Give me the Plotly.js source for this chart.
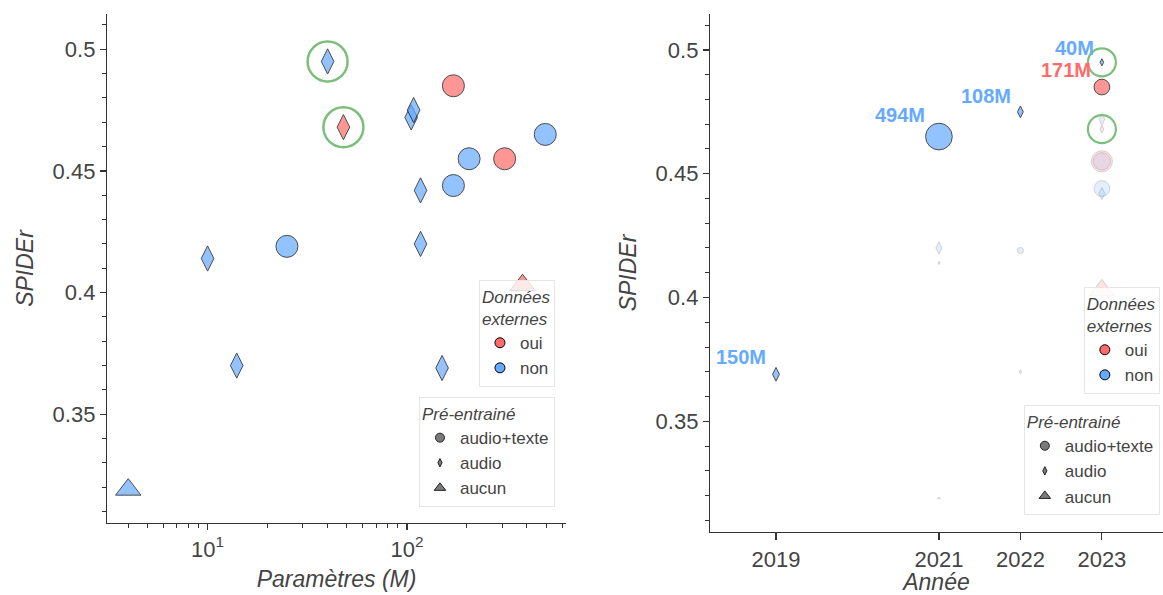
<!DOCTYPE html>
<html>
<head>
<meta charset="utf-8">
<script src="https://cdn.plot.ly/plotly-3.0.1.min.js"></script>
<style>
  html, body { margin: 0; padding: 0; background: #fff; }
  #chart { width: 1163px; height: 595px; }
</style>
</head>
<body>
<div id="chart"></div>
<script>
// ---- Data ----
const params   = [4, 10, 14, 25, 40, 48, 105, 108, 117, 117, 150, 171, 171, 205, 309, 380, 494];
const spider   = [0.319, 0.414, 0.370, 0.419, 0.495, 0.468, 0.472, 0.475, 0.420, 0.442, 0.369, 0.444, 0.485, 0.455, 0.455, 0.403, 0.465];
const years    = [2021, 2021, 2022, 2022, 2023, 2023, 2023, 2022, 2021, 2023, 2019, 2023, 2023, 2023, 2023, 2023, 2021];
const externe  = ['non','non','non','non','non','oui','non','non','non','non','non','non','oui','non','oui','oui','non'];
const pretrain = ['aucun','audio','audio','audio+texte','audio','audio','audio','audio','audio','audio','audio','audio+texte','audio+texte','audio+texte','audio+texte','aucun','audio+texte'];
const highlighted = [false,false,false,false,true,true,false,false,false,false,false,false,false,false,false,false,false];

const externeLabels  = ['oui', 'non'];
const pretrainLabels = ['audio+texte', 'audio', 'aucun'];
const yearTicks = [2019, 2021, 2022, 2023];
const xLogTicks = [10, 100];
const xLogTickText = ['10<sup>1</sup>', '10<sup>2</sup>'];
const yTickText = ['0.35', '0.4', '0.45', '0.5'];

// ---- Styles ----
const colorMap  = { 'oui': '#ff6b6b', 'non': '#66aaff' };
const symbolMap = { 'audio+texte': 'circle', 'audio': 'diamond-tall', 'aucun': 'triangle-up' };
const leftSize  = { 'circle': 22, 'diamond-tall': 18, 'triangle-up': 22 };
const rightFactor = { 'circle': 1.2, 'diamond-tall': 0.8, 'triangle-up': 1.1 };
const heightFactor = { 'circle': 1.0, 'diamond-tall': 1.4, 'triangle-up': 0.75 };
const FONT = 'Liberation Sans, Arial, sans-serif';
const TXT = '#444';
const AX = '#333';
const GREEN = '#7cbf7c';

const n = params.length;
const symbols = pretrain.map(p => symbolMap[p]);
const colors  = externe.map(e => colorMap[e]);

// best per (year, external-data group) -> shown opaque with label on the right panel
const best = spider.map((s, i) => {
  let m = -Infinity;
  for (let j = 0; j < n; j++) if (years[j] === years[i] && externe[j] === externe[i]) m = Math.max(m, spider[j]);
  return s === m;
});

const traces = [];

// Left panel: all models
traces.push({
  x: params, y: spider, xaxis: 'x', yaxis: 'y', type: 'scatter', mode: 'markers',
  showlegend: false, hoverinfo: 'skip',
  marker: {
    symbol: symbols, color: colors,
    size: symbols.map(s => leftSize[s]),
    line: { color: '#000', width: 1 }
  }
});
// Left highlight circles
traces.push({
  x: params.filter((_, i) => highlighted[i]), y: spider.filter((_, i) => highlighted[i]),
  xaxis: 'x', yaxis: 'y', type: 'scatter', mode: 'markers', showlegend: false, hoverinfo: 'skip',
  marker: { symbol: 'circle-open', size: 40, color: GREEN, line: { width: 2.5, color: GREEN } }
});

// Right panel: faint (non-best) first, then best
const idxFaint = [], idxBest = [];
for (let i = 0; i < n; i++) (best[i] ? idxBest : idxFaint).push(i);
const rightSizes = params.map((p, i) => rightFactor[symbols[i]] * Math.sqrt(p));

traces.push({
  x: idxFaint.map(i => years[i]), y: idxFaint.map(i => spider[i]),
  xaxis: 'x2', yaxis: 'y2', type: 'scatter', mode: 'markers', showlegend: false, hoverinfo: 'skip',
  marker: {
    symbol: idxFaint.map(i => symbols[i]), color: idxFaint.map(i => colors[i]),
    size: idxFaint.map(i => rightSizes[i]), opacity: 0.18,
    line: { color: '#000', width: 1 }
  }
});
traces.push({
  x: idxBest.map(i => years[i]), y: idxBest.map(i => spider[i]),
  xaxis: 'x2', yaxis: 'y2', type: 'scatter', mode: 'markers', showlegend: false, hoverinfo: 'skip',
  marker: {
    symbol: idxBest.map(i => symbols[i]), color: idxBest.map(i => colors[i]),
    size: idxBest.map(i => rightSizes[i]),
    line: { color: '#000', width: 1 }
  }
});
// Right highlight circles
traces.push({
  x: years.filter((_, i) => highlighted[i]), y: spider.filter((_, i) => highlighted[i]),
  xaxis: 'x2', yaxis: 'y2', type: 'scatter', mode: 'markers', showlegend: false, hoverinfo: 'skip',
  marker: { symbol: 'circle-open', size: 28, color: GREEN, line: { width: 2.2, color: GREEN } }
});

// Labels for the best models (annotations anchored on the data points)
const annotations = idxBest.map(i => {
  const h = rightSizes[i] * heightFactor[symbols[i]];
  const off = 4 + 0.35 * Math.max(h, 6);
  return {
    x: years[i], y: spider[i], xref: 'x2', yref: 'y2', showarrow: false,
    text: Math.round(params[i]) + 'M', xanchor: 'right', yanchor: 'bottom',
    xshift: -(off - 1), yshift: off - 5,
    font: { family: FONT, size: 20, weight: 'bold', color: colors[i] }
  };
});

// Legend entries (dummy traces)
const legendSym = { 'circle': 9, 'diamond-tall': 6, 'triangle-up': 10 };
[['legend', 'legend2', 'x', 'y'], ['legend3', 'legend4', 'x2', 'y2']].forEach(([lgA, lgB, xa, ya]) => {
  externeLabels.forEach(lab => traces.push({
    x: [null], y: [null], xaxis: xa, yaxis: ya, type: 'scatter', mode: 'markers', name: lab, legend: lgA,
    marker: { symbol: 'circle', size: 10, color: colorMap[lab], line: { color: '#000', width: 1 } }
  }));
  pretrainLabels.forEach(lab => traces.push({
    x: [null], y: [null], xaxis: xa, yaxis: ya, type: 'scatter', mode: 'markers', name: lab, legend: lgB,
    marker: { symbol: symbolMap[lab], size: legendSym[symbolMap[lab]], color: '#7a7a7a', line: { color: '#222', width: 1 } }
  }));
});

// minor ticks for the log axis
const minorLog = [];
for (let d = 1; d <= 100; d *= 10) for (let k = 2; k <= 9; k++) minorLog.push(k * d);

const tickFont = { family: FONT, size: 22, color: TXT };
const titleFont = { family: FONT, size: 23, color: TXT, style: 'italic' };
const yRange = [0.3053, 0.5145];

const baseAxis = {
  showline: true, linecolor: AX, linewidth: 1.2, ticks: 'outside', tickcolor: AX, tickwidth: 1.2,
  showgrid: false, zeroline: false, tickfont: tickFont, automargin: false
};
const yMinor = { dtick: 0.01, tick0: 0.3, ticks: 'outside', ticklen: 4, tickcolor: AX, tickwidth: 1, showgrid: false };

const legendBase = {
  bgcolor: 'rgba(255,255,255,0.8)', bordercolor: '#e6e6e6', borderwidth: 1,
  font: { family: FONT, size: 17, color: TXT }, xanchor: 'right', yanchor: 'top',
  itemclick: false, itemdoubleclick: false
};
const titleDon = { text: 'Données<br>externes', font: { family: FONT, size: 17, color: TXT, style: 'italic' } };
const titlePre = { text: 'Pré-entrainé', font: { family: FONT, size: 17, color: TXT, style: 'italic' } };

const layout = {
  width: 1163, height: 595,
  margin: { l: 107, r: 0, t: 14, b: 63 },
  paper_bgcolor: '#fff', plot_bgcolor: '#fff',
  font: { family: FONT, color: TXT },
  annotations: annotations,
  xaxis: Object.assign({}, baseAxis, {
    type: 'log', domain: [0, 0.4347], range: [Math.log10(3.13), Math.log10(628)], anchor: 'y',
    tickmode: 'array', tickvals: xLogTicks, ticktext: xLogTickText, ticklen: 6,
    minor: { tickmode: 'array', tickvals: minorLog, ticks: 'outside', ticklen: 4, tickcolor: AX, tickwidth: 1, showgrid: false },
    title: { text: 'Paramètres (M)', font: titleFont, standoff: 10 }
  }),
  yaxis: Object.assign({}, baseAxis, {
    domain: [0.0174, 1], range: yRange, anchor: 'x',
    tickmode: 'array', tickvals: yTickText.map(Number), ticktext: yTickText, ticklen: 6,
    minor: yMinor,
    title: { text: 'SPIDEr', font: titleFont, standoff: 12 }
  }),
  xaxis2: Object.assign({}, baseAxis, {
    domain: [0.571, 1], range: [2018.19, 2023.75], anchor: 'y2',
    tickmode: 'array', tickvals: yearTicks, ticktext: yearTicks.map(String), ticklen: 7,
    title: { text: 'Année', font: titleFont, standoff: 9 }
  }),
  yaxis2: Object.assign({}, baseAxis, {
    domain: [0, 1], range: yRange, anchor: 'x2',
    tickmode: 'array', tickvals: yTickText.map(Number), ticktext: yTickText, ticklen: 6,
    minor: yMinor,
    title: { text: 'SPIDEr', font: titleFont, standoff: 12 }
  }),
  legend:  Object.assign({}, legendBase, { x: 0.4242, y: 0.4865, title: titleDon }),
  legend2: Object.assign({}, legendBase, { x: 0.4242, y: 0.2606, title: titlePre }),
  legend3: Object.assign({}, legendBase, { x: 0.997, y: 0.473, title: titleDon }),
  legend4: Object.assign({}, legendBase, { x: 0.997, y: 0.245, title: titlePre }),
  showlegend: true
};

Plotly.newPlot('chart', traces, layout, { displayModeBar: false, staticPlot: true });
</script>
</body>
</html>
